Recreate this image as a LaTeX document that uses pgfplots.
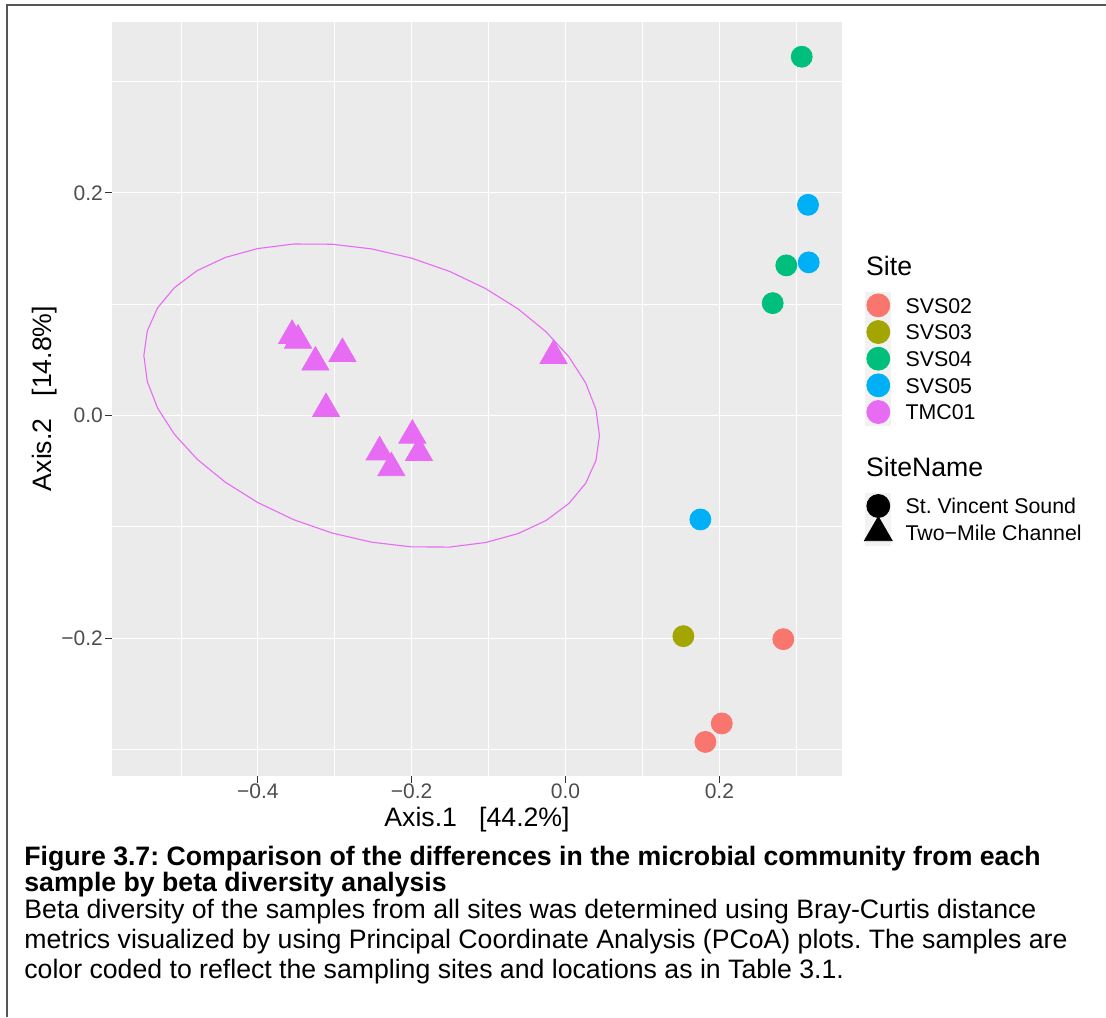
\documentclass[border=0pt]{standalone}
\usepackage{fontspec}
\setmainfont{Liberation Sans}
\usepackage{pgfplots}
\pgfplotsset{compat=1.18}
\definecolor{c1}{HTML}{F8766D}
\definecolor{c2}{HTML}{A3A500}
\definecolor{c3}{HTML}{00BF7D}
\definecolor{c4}{HTML}{00B0F6}
\definecolor{c5}{HTML}{E76BF3}
\definecolor{panelbg}{HTML}{EBEBEB}
\definecolor{tickcol}{HTML}{333333}
\definecolor{ticklab}{HTML}{4D4D4D}
\definecolor{keybg}{HTML}{F2F2F2}
\definecolor{framecol}{HTML}{555555}
\pgfplotsset{
  keyimg/.style={legend image code/.code={
    \fill[keybg] (-6.25pt,-6.45pt) rectangle (6.25pt,6.45pt);
    \begin{pgfinterruptboundingbox}
    \draw[##1] plot coordinates {(0pt,0pt)};
    \end{pgfinterruptboundingbox}
  }},
}
\tikzset{
  keylab/.style={font=\fontsize{10.67}{12}\selectfont, text height=10.49pt, text depth=2.84pt},
}
\frenchspacing
\begin{document}
\begin{tikzpicture}
\useasboundingbox (0,0) rectangle (553pt,508.5pt);
\draw[framecol, line width=1pt] (3.5pt,0pt) -- (3.5pt,506pt) -- (553pt,506pt);
\begin{axis}[
  at={(56pt,120.5pt)}, anchor=south west,
  scale only axis, width=365pt, height=377pt,
  xmin=-0.5895, xmax=0.3594, ymin=-0.3238, ymax=0.3534,
  axis background/.style={fill=panelbg},
  axis line style={draw=none},
  xtick={-0.4,-0.2,0,0.2},
  xticklabels={\mbox{−0.4},\mbox{−0.2},\mbox{0.0},\mbox{0.2}},
  ytick={-0.2,0,0.2},
  yticklabels={\mbox{−0.2},\mbox{0.0},\mbox{0.2}},
  minor xtick={-0.5,-0.3,-0.1,0.1,0.3},
  minor ytick={-0.3,-0.1,0.1,0.3},
  grid=both,
  major grid style={white, line width=0.6pt},
  minor grid style={white, line width=0.35pt},
  tick align=outside, tick pos=left,
  major tick length=3.3pt, minor tick length=0pt,
  tick style={tickcol, line width=0.5pt},
  ticklabel style={font=\fontsize{10.5}{12}\selectfont, text=ticklab, inner sep=0pt},
  xticklabel style={anchor=base, yshift=-7.7pt},
  yticklabel style={anchor=east, xshift=-1.05pt},
  legend style={at={(axis description cs:1.0315,0.691)}, anchor=north west,
    inner sep=0pt, draw=none, fill=none, row sep=0pt, column sep=7.2pt,
    nodes={inner sep=0pt}, cells={anchor=west}},
  legend cell align=left,
]
% SVS02
\addplot[only marks, mark=*, mark size=5.25pt, color=c1, forget plot]
  coordinates {(0.2831,-0.2009) (0.2031,-0.2766) (0.1818,-0.2932)};
% SVS03
\addplot[only marks, mark=*, mark size=5.25pt, color=c2, forget plot]
  coordinates {(0.1532,-0.1982)};
% SVS04
\addplot[only marks, mark=*, mark size=5.25pt, color=c3, forget plot]
  coordinates {(0.3070,0.3222) (0.2870,0.1348) (0.2693,0.1009)};
% SVS05
\addplot[only marks, mark=*, mark size=5.25pt, color=c4, forget plot]
  coordinates {(0.3152,0.1892) (0.3161,0.1375) (0.1753,-0.0934)};
% TMC01
\addplot[only marks, mark=triangle*, mark size=7.8pt, color=c5, forget plot]
  coordinates {(-0.3554,0.0717) (-0.3476,0.0675) (-0.3251,0.0478) (-0.2900,0.0555)
   (-0.3113,0.0060) (-0.1991,-0.0179) (-0.1905,-0.0335) (-0.2416,-0.0329)
   (-0.2264,-0.0471) (-0.0156,0.0537)};
% ellipse TMC01
\addplot[c5, line width=0.55pt, forget plot] coordinates {
 (0.0441,-0.0180) (0.0396,0.0054) (0.0262,0.0292) (0.0044,0.0527) (-0.0252,0.0751)
 (-0.0617,0.0957) (-0.1040,0.1140) (-0.1507,0.1294) (-0.2006,0.1414) (-0.2520,0.1496)
 (-0.3034,0.1538) (-0.3533,0.1540) (-0.4001,0.1499) (-0.4423,0.1419) (-0.4788,0.1301)
 (-0.5084,0.1148) (-0.5302,0.0967) (-0.5436,0.0761) (-0.5481,0.0538) (-0.5436,0.0304)
 (-0.5302,0.0066) (-0.5084,-0.0169) (-0.4788,-0.0393) (-0.4423,-0.0599) (-0.4000,-0.0782)
 (-0.3533,-0.0936) (-0.3034,-0.1056) (-0.2520,-0.1138) (-0.2006,-0.1180) (-0.1507,-0.1182)
 (-0.1040,-0.1141) (-0.0617,-0.1061) (-0.0252,-0.0943) (0.0044,-0.0790) (0.0262,-0.0609)
 (0.0396,-0.0403) (0.0441,-0.0180)};
% legend
\addlegendimage{empty legend}
\addlegendentry[font=\fontsize{13.33}{16}\selectfont, text height=10pt, text depth=8.33pt]{\hspace*{-19.7pt}Site}
\addlegendimage{only marks, mark=*, mark size=5.75pt, color=c1, keyimg}
\addlegendentry[keylab]{SVS02}
\addlegendimage{only marks, mark=*, mark size=5.75pt, color=c2, keyimg}
\addlegendentry[keylab]{SVS03}
\addlegendimage{only marks, mark=*, mark size=5.75pt, color=c3, keyimg}
\addlegendentry[keylab]{SVS04}
\addlegendimage{only marks, mark=*, mark size=5.75pt, color=c4, keyimg}
\addlegendentry[keylab]{SVS05}
\addlegendimage{only marks, mark=*, mark size=5.75pt, color=c5, keyimg}
\addlegendentry[keylab]{TMC01}
\addlegendimage{empty legend}
\addlegendentry[font=\fontsize{13.33}{16}\selectfont, text height=25.48pt, text depth=8.18pt]{\hspace*{-19.7pt}SiteName}
\addlegendimage{only marks, mark=*, mark size=5.75pt, color=black, keyimg}
\addlegendentry[keylab]{St. Vincent Sound}
\addlegendimage{only marks, mark=triangle*, mark size=8pt, color=black, keyimg}
\addlegendentry[keylab]{Two−Mile Channel}
\end{axis}
\node[anchor=base, font=\fontsize{13.33}{16}\selectfont] at (238.5pt,95.5pt) {Axis.1\ \ \ [44.2\%]};
\node[anchor=base, rotate=90, font=\fontsize{13.33}{16}\selectfont] at (25.85pt,309.25pt) {Axis.2\ \ \ [14.8\%]};
\node[anchor=base west, inner sep=0pt, font=\fontsize{13.33}{16}\selectfont\bfseries] at (12pt,75.65pt) {Figure 3.7: Comparison of the differences in the microbial community from each};
\node[anchor=base west, inner sep=0pt, font=\fontsize{13.33}{16}\selectfont\bfseries] at (12pt,62.75pt) {sample by beta diversity analysis};
\node[anchor=base west, inner sep=0pt, font=\fontsize{13.33}{16}\selectfont] at (12pt,49.35pt) {Beta diversity of the samples from all sites was determined using Bray-Curtis distance};
\node[anchor=base west, inner sep=0pt, font=\fontsize{13.33}{16}\selectfont] at (12pt,34.25pt) {metrics visualized by using Principal Coordinate Analysis (PCoA) plots. The samples are};
\node[anchor=base west, inner sep=0pt, font=\fontsize{13.33}{16}\selectfont] at (12pt,19.25pt) {color coded to reflect the sampling sites and locations as in Table 3.1.};
\end{tikzpicture}
\end{document}
